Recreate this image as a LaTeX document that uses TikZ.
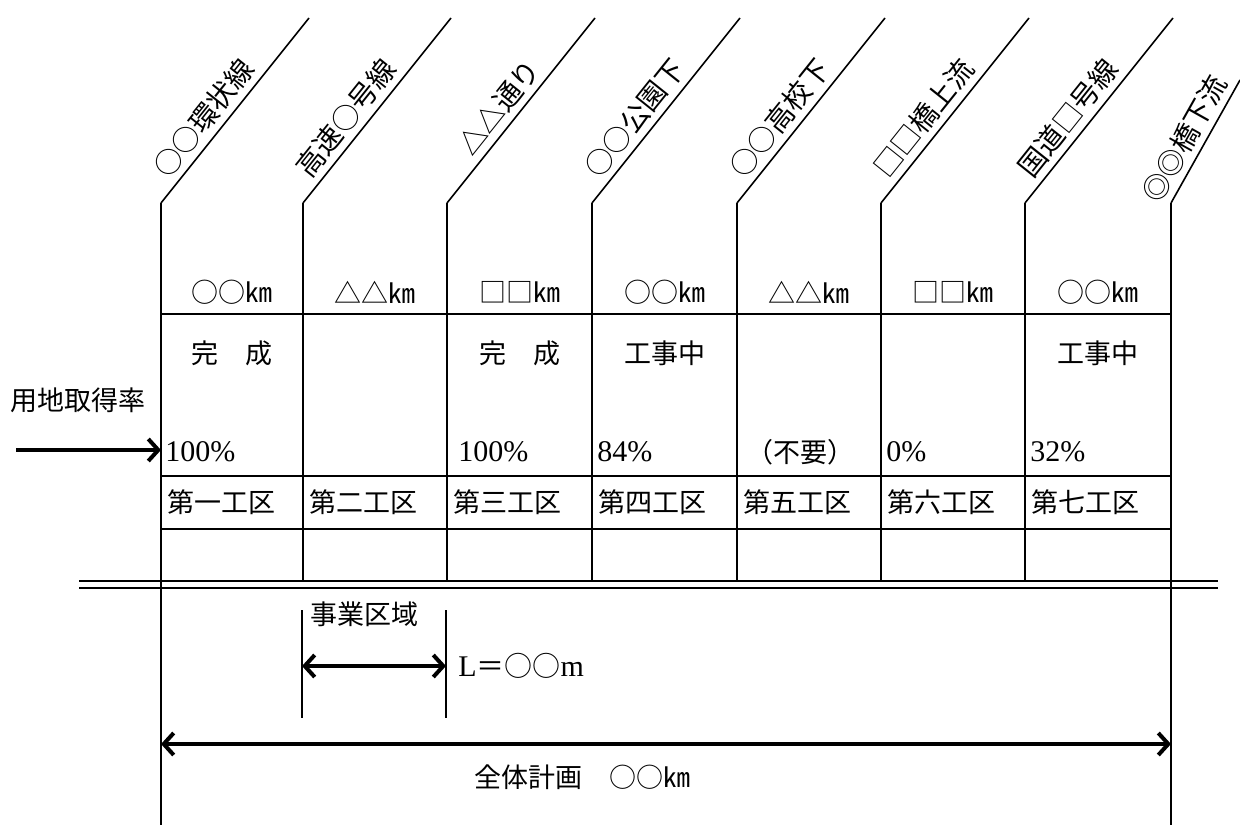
\documentclass[tikz,border=0pt]{standalone}
\usepackage{fontspec}
\setmainfont{Liberation Serif}
\newfontfamily\cjk{Noto Sans CJK JP}
\usetikzlibrary{arrows.meta}
\begin{document}
\begin{tikzpicture}[x=0.5pt,y=-0.5pt,
  grid/.style={line width=0.8pt},
  dimarrow/.style={line width=2pt,{Straight Barb[length=5pt,width=11pt]}-{Straight Barb[length=5pt,width=11pt]}},
  onearrow/.style={line width=2pt,-{Straight Barb[length=5pt,width=11pt]}},
  lbl/.style={font=\cjk\fontsize{14pt}{16pt}\selectfont, inner sep=3pt},
  tbl/.style={font=\cjk\fontsize{13.5pt}{16pt}\selectfont, inner sep=0pt},
  num/.style={font=\fontsize{15pt}{17pt}\selectfont, inner sep=0pt}
]
\useasboundingbox (0,0) rectangle (1240,825);
% column bends and tops
\foreach \i/\x in {1/161,2/303,3/447,4/592,5/737,6/881,7/1025,8/1171}{
  \coordinate (c\i) at (\x,203);
  \coordinate (b\i) at (\x,581);
}
\foreach \i/\x in {1/161,2/303,3/447,4/592,5/737,6/881,7/1025}{
  \coordinate (t\i) at (\x+148,18);
}
\coordinate (t8) at (1240,80);
\coordinate (e1) at (161,825);
\coordinate (e8) at (1171,825);
% verticals
\draw[grid] (c1) -- (e1);
\draw[grid] (c8) -- (e8);
\foreach \i in {2,...,7}{\draw[grid] (c\i) -- (b\i);}
% diagonals with labels
\draw[grid] (c1) -- (t1) node[sloped,pos=0.717,anchor=south east,lbl] (n1) {○○環状線};
\draw[grid] (c2) -- (t2) node[sloped,pos=0.717,anchor=south east,lbl] (n2) {高速○号線};
\draw[grid] (c3) -- (t3) node[sloped,pos=0.717,anchor=south east,lbl] (n3) {△△通り};
\draw[grid] (c4) -- (t4) node[sloped,pos=0.717,anchor=south east,lbl] (n4) {○○公園下};
\draw[grid] (c5) -- (t5) node[sloped,pos=0.717,anchor=south east,lbl] (n5) {○○高校下};
\draw[grid] (c6) -- (t6) node[sloped,pos=0.717,anchor=south east,lbl] (n6) {□□橋上流};
\draw[grid] (c7) -- (t7) node[sloped,pos=0.717,anchor=south east,lbl] (n7) {国道□号線};
\draw[grid] (c8) -- (t8) node[sloped,pos=0.99,anchor=south east,lbl] (n8) {◎◎橋下流};
% horizontal table lines
\foreach \y in {314,476,529}{\draw[grid] (161,\y) -- (1171,\y);}
\coordinate (dl1) at (79,581); \coordinate (dr1) at (1218,581);
\coordinate (dl2) at (79,588); \coordinate (dr2) at (1218,588);
\draw[grid] (dl1) -- (dr1);
\draw[grid] (dl2) -- (dr2);
% km row
\node[tbl] (k1) at (232,292) {○○㎞};
\node[tbl] (k2) at (375,292) {△△㎞};
\node[tbl] (k3) at (520,292) {□□㎞};
\node[tbl] (k4) at (665,292) {○○㎞};
\node[tbl] (k5) at (809,292) {△△㎞};
\node[tbl] (k6) at (953,292) {□□㎞};
\node[tbl] (k7) at (1098,292) {○○㎞};
% status row
\node[tbl] (s1) at (232,353) {完　成};
\node[tbl] (s3) at (520,353) {完　成};
\node[tbl] (s4) at (665,353) {工事中};
\node[tbl] (s7) at (1098,353) {工事中};
% percent row
\node[num,anchor=west] (p1) at (165,452) {100\%};
\node[num,anchor=west] (p3) at (458,452) {100\%};
\node[num,anchor=west] (p4) at (597,452) {84\%};
\node[tbl] (p5) at (800,452) {（不要）};
\node[num,anchor=west] (p6) at (886,452) {0\%};
\node[num,anchor=west] (p7) at (1030,452) {32\%};
% section row
\node[tbl,anchor=west] (w1) at (167,502) {第一工区};
\node[tbl,anchor=west] (w2) at (309,502) {第二工区};
\node[tbl,anchor=west] (w3) at (453,502) {第三工区};
\node[tbl,anchor=west] (w4) at (598,502) {第四工区};
\node[tbl,anchor=west] (w5) at (743,502) {第五工区};
\node[tbl,anchor=west] (w6) at (887,502) {第六工区};
\node[tbl,anchor=west] (w7) at (1031,502) {第七工区};
% land acquisition label and arrow
\node[tbl] (yl) at (78,400) {用地取得率};
\coordinate (ya) at (16,450);
\coordinate (yb) at (161,450);
\draw[onearrow] (ya) -- (yb);
% project area
\coordinate (z1t) at (302,610); \coordinate (z1b) at (302,718);
\coordinate (z2t) at (446,610); \coordinate (z2b) at (446,718);
\draw[grid] (z1t) -- (z1b);
\draw[grid] (z2t) -- (z2b);
\node[tbl] (zl) at (364,614) {事業区域};
\coordinate (za) at (302,666); \coordinate (zb) at (446,666);
\draw[dimarrow] (za) -- (zb);
\node[anchor=west,inner sep=0pt] (lm) at (458,666) {\fontsize{15pt}{17pt}\selectfont L{\cjk\fontsize{14pt}{17pt}\selectfont ＝○○}m};
% overall plan
\coordinate (ga) at (161,744); \coordinate (gb) at (1171,744);
\draw[dimarrow] (ga) -- (gb);
\node[tbl] (gl) at (582,777) {全体計画　○○㎞};
\end{tikzpicture}
\end{document}
